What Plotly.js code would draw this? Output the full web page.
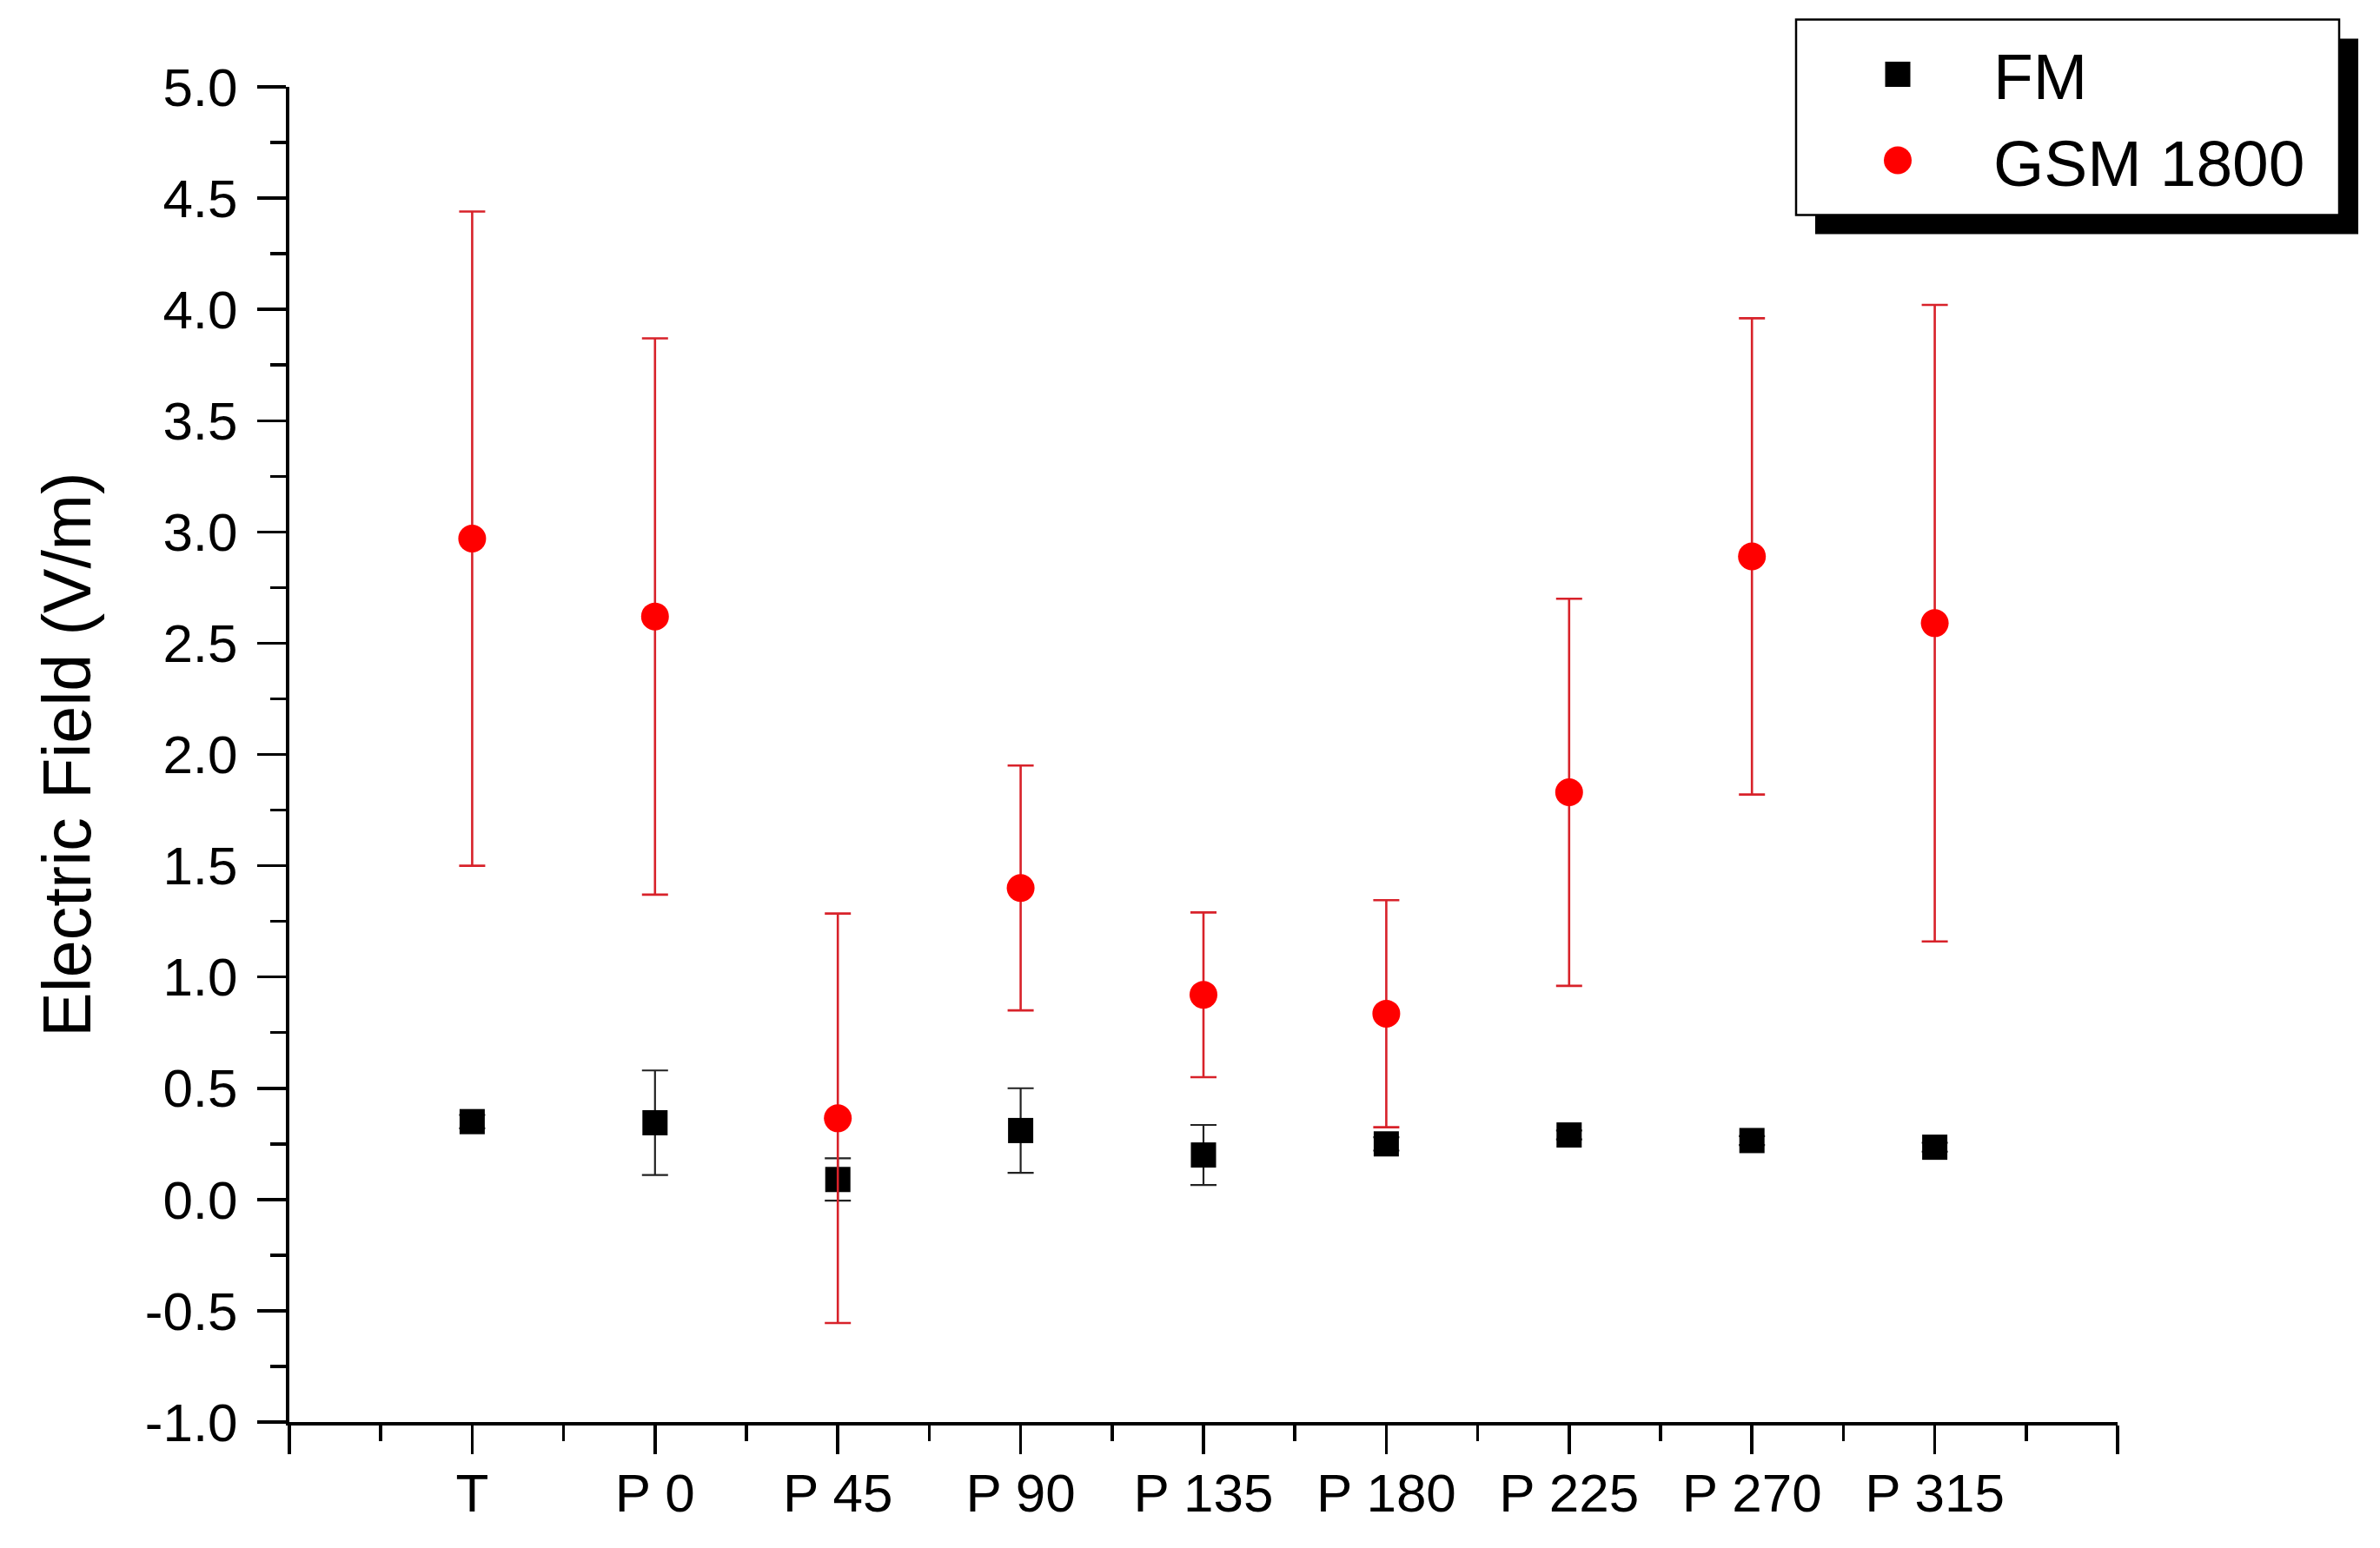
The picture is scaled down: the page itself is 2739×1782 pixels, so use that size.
<!DOCTYPE html>
<html><head><meta charset="utf-8">
<script src="https://cdn.plot.ly/plotly-3.0.1.min.js"></script>
<style>html,body{margin:0;padding:0;background:#fff;} #chart{width:2739px;height:1782px;}</style>
</head><body><div id="chart"></div>
<script>
const categories = ['T', 'P 0', 'P 45', 'P 90', 'P 135', 'P 180', 'P 225', 'P 270', 'P 315'];
const fmValues  = [0.35, 0.345, 0.09, 0.31, 0.20, 0.25, 0.29, 0.265, 0.235];
const fmErrors  = [0.03, 0.235, 0.095, 0.19, 0.135, 0.03, 0.02, 0.02, 0.02];
const gsmValues = [2.97, 2.62, 0.365, 1.40, 0.92, 0.835, 1.83, 2.89, 2.59];
const gsmErrors = [1.47, 1.25, 0.92, 0.55, 0.37, 0.51, 0.87, 1.07, 1.43];
const seriesNames = ['FM', 'GSM 1800'];
const yTickValues = [-1.0, -0.5, 0.0, 0.5, 1.0, 1.5, 2.0, 2.5, 3.0, 3.5, 4.0, 4.5, 5.0];
const yAxisTitle = 'Electric Field (V/m)';

const xPos = categories.map((c, i) => i);
const xTickVals = [-1].concat(xPos, [categories.length]);
const xTickText = [''].concat(categories, ['']);
const yTickText = yTickValues.map(v => v.toFixed(1));

const FONT = 'Liberation Sans, Arial, sans-serif';
const FM_COLOR = '#000000', GSM_COLOR = '#FF0000';

const traces = [
  {
    x: xPos, y: fmValues, name: seriesNames[0], type: 'scatter', mode: 'markers',
    marker: {symbol: 'square', size: 29, color: FM_COLOR},
    error_y: {type: 'data', array: fmErrors, visible: true, color: '#222222', thickness: 2.2, width: 15}
  },
  {
    x: xPos, y: gsmValues, name: seriesNames[1], type: 'scatter', mode: 'markers',
    marker: {symbol: 'circle', size: 32, color: GSM_COLOR},
    error_y: {type: 'data', array: gsmErrors, visible: true, color: '#D8222A', thickness: 2.6, width: 15}
  }
];

// plot-area pixel frame (used only to place legend decorations in paper coords)
const L = 333, R = 2437, T = 100.5, B = 1637;
const px = v => (v - L) / (R - L);
const py = v => (B - v) / (B - T);

const tickCommon = {
  showline: true, linewidth: 4, linecolor: '#000', mirror: false,
  ticks: 'outside', ticklen: 33, tickwidth: 3.5, tickcolor: '#000',
  showgrid: false, zeroline: false,
  tickfont: {family: FONT, size: 62, color: '#000'}
};

const layout = {
  width: 2739, height: 1782,
  margin: {l: 333, r: 302, t: 100, b: 145, pad: 0},
  paper_bgcolor: '#fff', plot_bgcolor: '#fff',
  font: {family: FONT, color: '#000'},
  showlegend: true,
  xaxis: Object.assign({}, tickCommon, {
    range: [-1, 9], tickmode: 'array', tickvals: xTickVals, ticktext: xTickText,
    ticklabelstandoff: -8,
    minor: {tickmode: 'linear', tick0: -1, dtick: 0.5, ticks: 'outside', ticklen: 18, tickwidth: 3.5, tickcolor: '#000', showgrid: false}
  }),
  yaxis: Object.assign({}, tickCommon, {
    range: [-1, 5], tickmode: 'array', tickvals: yTickValues, ticktext: yTickText,
    ticklabelstandoff: 10,
    minor: {tickmode: 'linear', tick0: -1, dtick: 0.25, ticks: 'outside', ticklen: 18, tickwidth: 3.5, tickcolor: '#000', showgrid: false},
    title: {text: yAxisTitle, font: {family: FONT, size: 77, color: '#000'}, standoff: 38}
  }),
  legend: {
    x: px(2074), y: py(30), xanchor: 'left', yanchor: 'top',
    bgcolor: 'rgba(0,0,0,0)', borderwidth: 0,
    font: {family: FONT, size: 75, color: '#000'},
    itemwidth: 210
  },
  shapes: [
    // legend box shadow and frame
    {type: 'rect', xref: 'paper', yref: 'paper', x0: px(2089), x1: px(2714), y0: py(270), y1: py(45),
     fillcolor: '#000', line: {width: 0}, layer: 'above'},
    {type: 'rect', xref: 'paper', yref: 'paper', x0: px(2067), x1: px(2692), y0: py(248), y1: py(23),
     fillcolor: '#fff', line: {color: '#000', width: 2.5}, layer: 'above'},
    // full-size legend symbols (Plotly caps legend symbols at 16px)
    {type: 'rect', xref: 'paper', yref: 'paper', x0: px(2184 - 14.5), x1: px(2184 + 14.5), y0: py(86 + 14.5), y1: py(86 - 14.5),
     fillcolor: FM_COLOR, line: {width: 0}, layer: 'above'},
    {type: 'circle', xref: 'paper', yref: 'paper', x0: px(2184 - 16), x1: px(2184 + 16), y0: py(185 + 16), y1: py(185 - 16),
     fillcolor: GSM_COLOR, line: {width: 0}, layer: 'above'}
  ]
};

Plotly.newPlot('chart', traces, layout, {displayModeBar: false, staticPlot: true});
</script>
</body></html>
